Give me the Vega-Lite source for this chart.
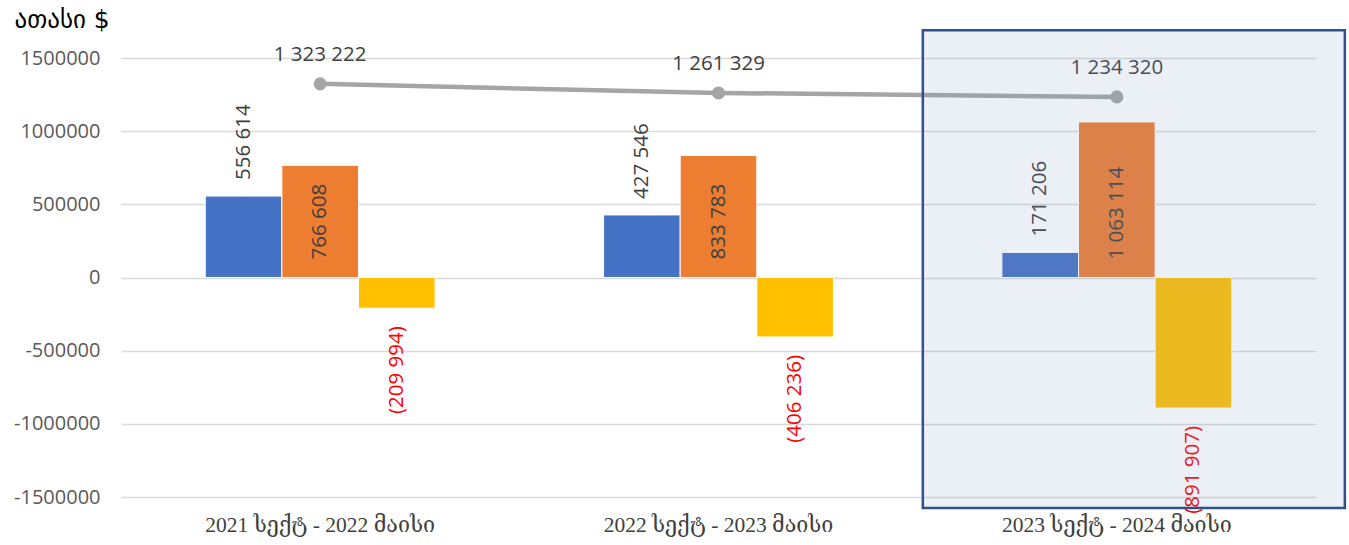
{
  "$schema": "https://vega.github.io/schema/vega-lite/v6.json",
  "autosize": {"type": "none"},
  "width": 1195,
  "height": 439,
  "padding": {"left": 121, "top": 58, "right": 33, "bottom": 48},
  "background": "#ffffff",
  "config": {
    "view": {"stroke": null},
    "locale": {"number": {"decimal": ".", "thousands": " ", "grouping": [3], "currency": ["$", ""], "minus": "-"}},
    "text": {"font": "Open Sans", "fontSize": 20.5, "color": "#404040"}
  },
  "datasets": {
    "bars": [
      {"period": "2021 სექტ - 2022 მაისი", "series": "სერია 1", "value": 556614},
      {"period": "2021 სექტ - 2022 მაისი", "series": "სერია 2", "value": 766608},
      {"period": "2021 სექტ - 2022 მაისი", "series": "სერია 3", "value": -209994},
      {"period": "2022 სექტ - 2023 მაისი", "series": "სერია 1", "value": 427546},
      {"period": "2022 სექტ - 2023 მაისი", "series": "სერია 2", "value": 833783},
      {"period": "2022 სექტ - 2023 მაისი", "series": "სერია 3", "value": -406236},
      {"period": "2023 სექტ - 2024 მაისი", "series": "სერია 1", "value": 171206},
      {"period": "2023 სექტ - 2024 მაისი", "series": "სერია 2", "value": 1063114},
      {"period": "2023 სექტ - 2024 მაისი", "series": "სერია 3", "value": -891907}
    ],
    "totals": [
      {"period": "2021 სექტ - 2022 მაისი", "total": 1323222},
      {"period": "2022 სექტ - 2023 მაისი", "total": 1261329},
      {"period": "2023 სექტ - 2024 მაისი", "total": 1234320}
    ],
    "box": [
      {"period": "2023 სექტ - 2024 მაისი", "top": 1690000, "bottom": -1575000}
    ]
  },
  "data": {"name": "bars"},
  "layer": [
    {
      "mark": {"type": "bar", "stroke": "#ffffff", "strokeWidth": 1},
      "encoding": {
        "x": {
          "field": "period", "type": "nominal", "sort": null,
          "scale": {"paddingInner": 0.423, "paddingOuter": 0.2115},
          "axis": {
            "title": null, "labelAngle": 0, "domain": false, "ticks": false,
            "labelFont": "Liberation Serif, DejaVu Serif", "labelFontSize": 21.5,
            "labelColor": "#404040", "labelPadding": 17, "labelLimit": 0
          }
        },
        "xOffset": {"field": "series", "type": "nominal", "sort": null},
        "y": {
          "field": "value", "type": "quantitative",
          "scale": {"domain": [-1500000, 1500000], "nice": false, "zero": false},
          "axis": {
            "values": [-1500000, -1000000, -500000, 0, 500000, 1000000, 1500000],
            "format": "d", "domain": false, "ticks": false,
            "labelFont": "Open Sans", "labelFontSize": 20, "labelColor": "#595959",
            "labelPadding": 21,
            "gridColor": "#D9D9D9", "gridWidth": 1.5,
            "title": "ათასი $", "titleAngle": 0, "titleAlign": "left", "titleBaseline": "alphabetic",
            "titleX": -107, "titleY": -31, "titleFont": "DejaVu Sans", "titleFontSize": 25,
            "titleFontWeight": "normal", "titleColor": "#000000"
          }
        },
        "color": {
          "field": "series", "type": "nominal", "sort": null,
          "scale": {"range": ["#4472C4", "#ED7D31", "#FFC000"]},
          "legend": null
        }
      }
    },
    {
      "transform": [{"filter": "datum.series === 'სერია 1'"}],
      "mark": {"type": "text", "angle": 270, "align": "left", "baseline": "middle", "dx": 16},
      "encoding": {
        "x": {"field": "period", "type": "nominal", "sort": null},
        "xOffset": {"field": "series", "type": "nominal", "sort": null},
        "y": {"field": "value", "type": "quantitative"},
        "text": {"field": "value", "type": "quantitative", "format": ",d"}
      }
    },
    {
      "transform": [{"filter": "datum.series === 'სერია 2'"}],
      "mark": {"type": "text", "angle": 270, "align": "left", "baseline": "middle", "dx": 18},
      "encoding": {
        "x": {"field": "period", "type": "nominal", "sort": null},
        "xOffset": {"field": "series", "type": "nominal", "sort": null},
        "y": {"datum": 0, "type": "quantitative"},
        "text": {"field": "value", "type": "quantitative", "format": ",d"}
      }
    },
    {
      "transform": [{"filter": "datum.series === 'სერია 3'"}],
      "mark": {"type": "text", "angle": 270, "align": "right", "baseline": "middle", "dx": -18, "color": "#FF0000"},
      "encoding": {
        "x": {"field": "period", "type": "nominal", "sort": null},
        "xOffset": {"field": "series", "type": "nominal", "sort": null},
        "y": {"field": "value", "type": "quantitative"},
        "text": {"field": "value", "type": "quantitative", "format": "(,d"}
      }
    },
    {
      "data": {"name": "totals"},
      "mark": {"type": "line", "color": "#A5A5A5", "strokeWidth": 4.5, "point": {"filled": true, "size": 170, "color": "#A5A5A5"}},
      "encoding": {
        "x": {"field": "period", "type": "nominal", "sort": null},
        "y": {"field": "total", "type": "quantitative"}
      }
    },
    {
      "data": {"name": "totals"},
      "mark": {"type": "text", "align": "center", "baseline": "alphabetic", "dy": -23},
      "encoding": {
        "x": {"field": "period", "type": "nominal", "sort": null},
        "y": {"field": "total", "type": "quantitative"},
        "text": {"field": "total", "type": "quantitative", "format": ",d"}
      }
    },
    {
      "data": {"name": "box"},
      "mark": {"type": "rect", "width": 422, "xOffset": 17, "fill": "#8199C9", "fillOpacity": 0.16, "stroke": "#2F528F", "strokeWidth": 2.5},
      "encoding": {
        "x": {"field": "period", "type": "nominal", "sort": null},
        "y": {"field": "top", "type": "quantitative"},
        "y2": {"field": "bottom"}
      }
    }
  ]
}
